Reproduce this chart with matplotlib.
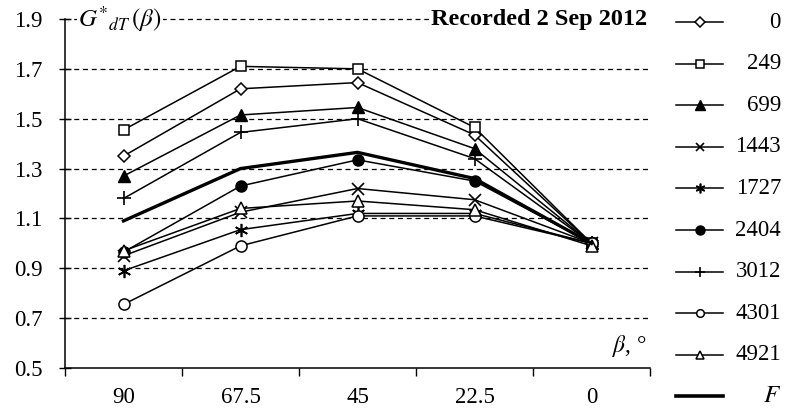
import matplotlib
matplotlib.use("Agg")
import matplotlib.pyplot as plt
from matplotlib.lines import Line2D
import numpy as np

plt.rcParams['font.family'] = ['Liberation Serif', 'DejaVu Serif']
plt.rcParams['mathtext.fontset'] = 'stix'

categories = ['90', '67.5', '45', '22.5', '0']
series_names = ['0', '249', '699', '1443', '1727', '2404', '3012', '4301', '4921', 'F']
s_0 = [1.35, 1.62, 1.645, 1.435, 1.0]
s_249 = [1.455, 1.71, 1.70, 1.465, 1.0]
s_699 = [1.27, 1.515, 1.545, 1.38, 1.0]
s_1443 = [0.95, 1.125, 1.22, 1.175, 1.0]
s_1727 = [0.89, 1.055, 1.12, 1.12, 1.0]
s_2404 = [0.965, 1.23, 1.335, 1.25, 1.0]
s_3012 = [1.18, 1.445, 1.50, 1.34, 1.0]
s_4301 = [0.755, 0.99, 1.11, 1.11, 1.0]
s_4921 = [0.97, 1.14, 1.17, 1.135, 0.99]
s_F = [1.09, 1.30, 1.365, 1.26, 1.0]
y_ticks = [0.5, 0.7, 0.9, 1.1, 1.3, 1.5, 1.7, 1.9]

values = [s_0, s_249, s_699, s_1443, s_1727, s_2404, s_3012, s_4301, s_4921, s_F]
styles = [
    dict(marker='D', ms=6.5, mfc='white', mew=1.1),
    dict(marker='s', ms=7.5, mfc='white', mew=1.1),
    dict(marker='^', ms=8.5, mfc='black', mew=1.0),
    dict(marker='x', ms=9.0, mfc='white', mew=1.2),
    dict(marker=(6, 2, 0), ms=9.5, mfc='white', mew=1.2),
    dict(marker='o', ms=8.0, mfc='black', mew=1.0),
    dict(marker='+', ms=10.5, mfc='white', mew=1.2),
    dict(marker='o', ms=8.0, mfc='white', mew=1.1),
    dict(marker='^', ms=8.5, mfc='white', mew=1.1),
    dict(marker='None', ms=0),
]
leg_ms = [5.0, 5.5, 6.5, 6.0, 7.0, 6.5, 6.5, 5.5, 6.0, 0]

W, H = 789, 419
fig = plt.figure(figsize=(W / 100, H / 100), dpi=100)
L, R, T, B = 65, 650, 19, 368
ax = fig.add_axes([L / W, 1 - B / H, (R - L) / W, (B - T) / H])

x = np.arange(len(categories)) + 0.5
for i, (vals, st) in enumerate(zip(values, styles)):
    lw = 2.4 if series_names[i] == 'F' else 1.1
    ax.plot(x, vals, color='black', lw=lw, mec='black', zorder=3 + i * 0.01, **st)

ax.set_xlim(0, len(categories))
ax.set_ylim(0.5, 1.9)
ax.set_yticks(y_ticks)
ax.set_yticklabels([f'{v:.1f}' for v in y_ticks], fontsize=16.5)
ax.set_xticks(x)
ax.set_xticklabels(categories, fontsize=16.5)
ax.set_xticks(np.arange(len(categories) + 1), minor=True)
ax.tick_params(axis='x', which='major', length=0, pad=14)
ax.tick_params(axis='x', which='minor', length=6, width=1, direction='out')
ax.tick_params(axis='y', which='major', length=8.5, width=1, direction='inout', pad=12)
for sp in ['top', 'right']:
    ax.spines[sp].set_visible(False)
for sp in ['left', 'bottom']:
    ax.spines[sp].set_linewidth(1.1)
for yv in y_ticks[1:]:
    ax.axhline(yv, color='black', lw=0.9, ls=(0, (4, 3)), zorder=1, clip_on=False)

def fx(px):
    return px / W

def fy(py):
    return 1 - py / H

fig.text(fx(78), fy(19), r'$G^{*}{}_{dT}\,(\beta)$', fontsize=18, ha='left', va='center',
         bbox=dict(facecolor='white', edgecolor='none', pad=1), zorder=5)
fig.text(fx(647), fy(19), 'Recorded 2 Sep 2012', fontsize=17.5, fontweight='bold',
         ha='right', va='center', bbox=dict(facecolor='white', edgecolor='none', pad=1), zorder=5)
fig.text(fx(647), fy(346), r'$\beta$, °', fontsize=17, ha='right', va='center')

# legend
y0, dy = 22, 41.6
for i, name in enumerate(series_names):
    yy = y0 + i * dy
    st = dict(styles[i])
    st['ms'] = leg_ms[i]
    lw = 2.6 if name == 'F' else 1.1
    ln = Line2D([fx(676), fx(723)], [fy(yy), fy(yy)], color='black', lw=lw,
                transform=fig.transFigure, mec='black')
    fig.add_artist(ln)
    if name != 'F':
        mk = Line2D([fx(699.5)], [fy(yy)], color='black', lw=0, mec='black',
                    transform=fig.transFigure, **st)
        fig.add_artist(mk)
        fig.text(fx(781), fy(yy), name, fontsize=16.5, ha='right', va='center')
    else:
        fig.text(fx(781), fy(yy), r'$F$', fontsize=18, ha='right', va='center')

fig.savefig('out.png', dpi=100)
